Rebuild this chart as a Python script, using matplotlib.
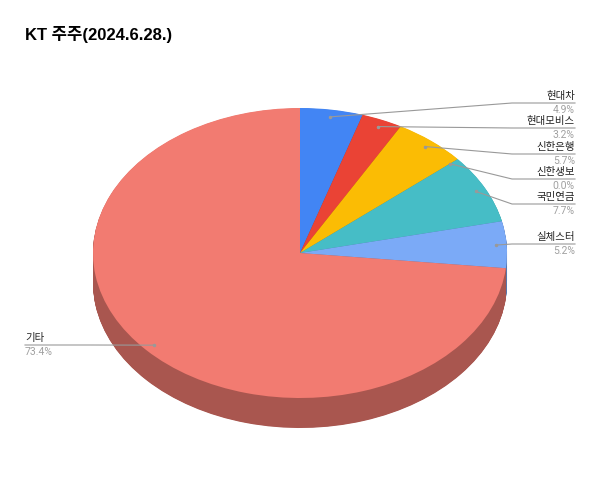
import matplotlib
matplotlib.use('Agg')
import numpy as np
import matplotlib.pyplot as plt
from matplotlib.colors import to_rgb

plt.rcParams['font.family'] = ['Liberation Sans', 'Noto Sans CJK KR', 'DejaVu Sans']

title = 'KT 주주(2024.6.28.)'
names = ['현대차', '현대모비스', '신한은행', '신한생보', '국민연금', '실체스터', '기타']
shares = [4.9, 3.2, 5.7, 0.0, 7.7, 5.2, 73.4]
colors = ['#4285F4', '#EA4335', '#FBBC04', '#34A853', '#46BDC6', '#7BAAF7', '#F27B71']

# pie geometry in pixels
cx, cy = 300, 253
rx, ry = 207, 145
depth = 30


def px(x, y):
    return (x - cx) / rx, (cy - y) / ry


# where each leader line levels off: elbow x, line y, end x, text x, align
leaders = [
    (512, 103, 575, 575, 'right'),
    (512, 128, 575, 575, 'right'),
    (512, 154, 575, 575, 'right'),
    (512, 179, 575, 575, 'right'),
    (512, 204, 575, 575, 'right'),
    (512, 244, 575, 575, 'right'),
    (90, 345, 25, 25, 'left'),
]

fig = plt.figure(figsize=(6, 5), dpi=100)
ax = fig.add_axes([0, 0, 1, 1])

# side of the pie: stacked darker copies
dark = [tuple(c * 0.7 for c in to_rgb(col)) for col in colors]
for d in np.arange(depth, 0, -0.5):
    ax.pie(shares, colors=dark, startangle=90, counterclock=False,
           center=(0, -d / ry), wedgeprops={'linewidth': 0})
ax.pie(shares, colors=colors, startangle=90, counterclock=False,
       wedgeprops={'linewidth': 0})

ax.set_aspect('auto')
ax.set_xlim(px(0, 0)[0], px(600, 0)[0])
ax.set_ylim(px(0, 500)[1], px(0, 0)[1])
ax.axis('off')

# leader lines and labels
total = sum(shares)
running = 0
for name, share, (ex, ly, endx, tx, ha) in zip(names, shares, leaders):
    mid = (running + share / 2) / total * 2 * np.pi
    running += share
    ax_x, ax_y = 0.95 * np.sin(mid), 0.95 * np.cos(mid)
    x1, y1 = px(ex, ly)
    x2, y2 = px(endx, ly)
    ax.plot([ax_x, x1, x2], [ax_y, y1, y2], color='#999999', lw=0.8, zorder=5)
    ax.plot([ax_x], [ax_y], 'o', color='#999999', ms=1.5, zorder=5)
    tx_, ty_ = px(tx, ly - 2)
    ax.text(tx_, ty_, name, ha=ha, va='bottom', fontsize=7.5, color='#222222')
    tx_, ty_ = px(tx, ly + 2.5)
    ax.text(tx_, ty_, f'{share:.1f}%', ha=ha, va='top', fontsize=7.5,
            color='#a0a0a0', family='Roboto')

fig.text(25 / 600, 1 - 34 / 500, title, fontsize=12, fontweight='bold',
         ha='left', va='center', color='black')

fig.savefig('out.png', dpi=100)
